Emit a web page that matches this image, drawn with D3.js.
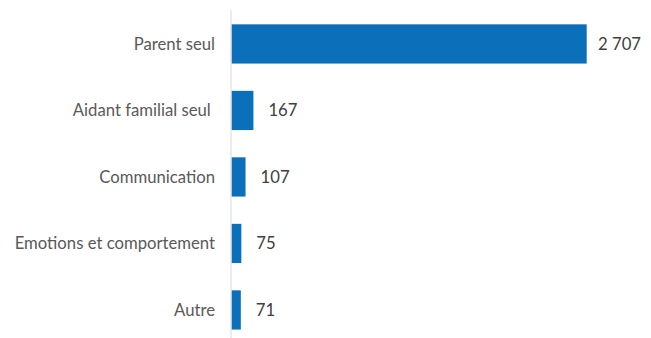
<!DOCTYPE html>
<html>
<head>
<meta charset="utf-8">
<script src="https://cdn.jsdelivr.net/npm/d3@7"></script>
<style>
  body { margin: 0; background: #fff; }
  text { font-family: Lato, "Open Sans", sans-serif; }
</style>
</head>
<body>
<div id="chart"></div>
<script>
var categories = ["Parent seul", "Aidant familial seul ", "Communication", "Emotions et comportement", "Autre"];
var values = [2707, 167, 107, 75, 71];
var labels = ["2 707", "167", "107", "75", "71"];

var width = 651,
    height = 338;

var svg = d3.select("#chart").append("svg")
  .attr("width", width)
  .attr("height", height);

var x = d3.scaleLinear()
  .domain([0, 2707])
  .range([231.5, 586.7]);

var y = d3.scaleBand()
  .domain(categories)
  .range([10.7, 343.2])
  .paddingInner(0.41)
  .paddingOuter(0.205);

// bars
svg.selectAll("rect")
  .data(values)
  .enter()
  .append("rect")
  .attr("x", x(0))
  .attr("y", function(d, i){ return y(categories[i]); })
  .attr("width", function(d){ return x(d) - x(0); })
  .attr("height", y.bandwidth())
  .style("fill", "#0b70b9");

// axis line
svg.append("line")
  .attr("x1", 231)
  .attr("x2", 231)
  .attr("y1", 10)
  .attr("y2", height)
  .style("stroke", "#d9d9d9")
  .style("stroke-width", 1);

// category labels
svg.selectAll(".cat")
  .data(categories)
  .enter()
  .append("text")
  .attr("class", "cat")
  .attr("x", 215)
  .attr("y", function(d){ return y(d) + y.bandwidth() / 2; })
  .attr("dy", "0.35em")
  .style("text-anchor", "end")
  .style("white-space", "pre")
  .style("font-size", "16.7px")
  .style("fill", "#595959")
  .text(function(d){ return d; });

// value labels (kept inside the right edge)
svg.selectAll(".val")
  .data(values)
  .enter()
  .append("text")
  .attr("class", "val")
  .attr("y", function(d, i){ return y(categories[i]) + y.bandwidth() / 2; })
  .attr("dy", "0.35em")
  .style("font-size", "16.7px")
  .style("fill", "#404040")
  .text(function(d, i){ return labels[i]; })
  .attr("x", function(d){
    var w = this.getComputedTextLength();
    return Math.min(x(d) + 15, 641 - w);
  });
</script>
</body>
</html>
